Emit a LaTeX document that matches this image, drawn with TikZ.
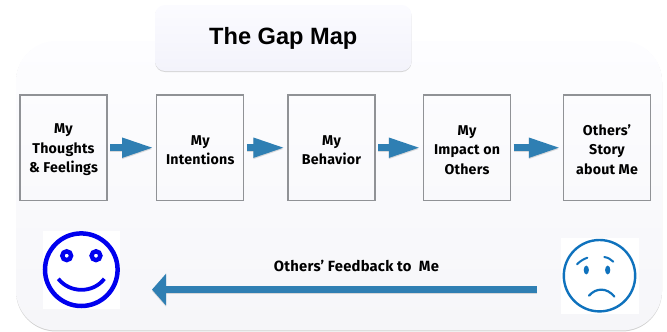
\documentclass[tikz,border=0pt]{standalone}
\usepackage{fontspec}
\setmainfont{Liberation Sans}
\newfontfamily\labfont[LetterSpace=1.5]{Fira Sans}
\usetikzlibrary{arrows.meta,shadows}
\definecolor{arrowblue}{HTML}{2F7FB3}
\definecolor{boxgrey}{HTML}{909296}
\definecolor{sadblue}{HTML}{0F72BD}
\definecolor{smileblue}{HTML}{0000EE}
\definecolor{paneltop}{HTML}{FDFDFF}
\definecolor{panelbot}{HTML}{F6F6F9}
\definecolor{titletop}{HTML}{FBFBFF}
\definecolor{titlebot}{HTML}{F3F3FB}
\newcommand\lift{\rule{0pt}{14.5pt}}
\tikzset{
  panelbox/.style={inner sep=0pt,rounded corners=40pt,top color=paneltop,bottom color=panelbot,draw=none,
    drop shadow={shadow xshift=0pt,shadow yshift=-1pt,fill=black!30,opacity=.6}},
  titlebox/.style={inner sep=0pt,rounded corners=10pt,top color=titletop,bottom color=titlebot,draw=none,
    drop shadow={shadow xshift=0pt,shadow yshift=-1pt,fill=black!30,opacity=.5},
    font=\bfseries\fontsize{23.6}{26}\selectfont},
  stagebox/.style={draw=boxgrey,line width=1.2pt,fill=none,inner sep=0pt,minimum width=87pt,minimum height=105.5pt,
    align=center,font=\labfont\bfseries\fontsize{14.2}{19.4}\selectfont},
  flowshadow/.style={draw=black!45,opacity=.3,line width=7pt,-{Triangle[length=32pt,width=18pt]},shorten <=2.5pt,shorten >=2pt},
  flowarrow/.style={draw=arrowblue,line width=7pt,-{Triangle[length=32pt,width=18pt]},shorten <=2.5pt,shorten >=2pt},
  backshadow/.style={draw=black!45,opacity=.3,line width=7pt,-{Triangle[length=14pt,width=31pt]}},
  backarrow/.style={draw=arrowblue,line width=7pt,-{Triangle[length=14pt,width=31pt]}},
  facebg/.style={fill=white,inner sep=0pt},
  caption/.style={inner sep=0pt,font=\labfont\bfseries\fontsize{14.8}{16}\selectfont}
}
\begin{document}
\begin{tikzpicture}[x=1pt,y=-1pt]
\useasboundingbox (0,0) rectangle (667,332);
\node[panelbox,minimum width=646pt,minimum height=289.5pt] (panel) at (339,185.7) {};
\node[titlebox,minimum width=256.5pt,minimum height=66pt] (title) at (283.3,38) {The Gap Map};
\node[stagebox] (s1) at (63.5,147.7) {\lift My\\Thoughts\\\& Feelings};
\node[stagebox] (s2) at (200.3,147.7) {\lift My\\Intentions};
\node[stagebox] (s3) at (331.5,147.7) {\lift My\\Behavior};
\node[stagebox] (s4) at (467,147.7) {\lift My\\Impact on\\Others};
\node[stagebox] (s5) at (607,147.7) {\lift Others’\\Story\\about Me};
\foreach \a/\b in {s1/s2,s2/s3,s3/s4,s4/s5}{
  \draw[flowshadow,transform canvas={yshift=-1.2pt}] (\a.east) -- (\b.west);
  \draw[flowarrow] (\a.east) -- (\b.west);
}
\node[facebg,minimum width=77.5pt,minimum height=78pt] (smile) at (81.3,269.7) {};
\draw[smileblue,line width=4.5pt] (smile.center) circle[radius=36.3pt];
\draw[smileblue,line width=4.4pt] (66.7,255.7) circle[radius=4.4pt];
\draw[smileblue,line width=4.4pt] (96,255.7) circle[radius=4.4pt];
\draw[smileblue,line width=3.8pt] (58.3,278.8) .. controls (70,293.5) and (93,293.5) .. (104.3,278.8);
\node[facebg,minimum width=78pt,minimum height=76pt] (sad) at (600,276) {};
\draw[sadblue,line width=2.4pt] (599.5,275.7) circle[radius=35.7pt];
\fill[sadblue] (586.3,270) ellipse[x radius=2.6pt,y radius=4.4pt];
\fill[sadblue] (607.7,270) ellipse[x radius=2.6pt,y radius=4.4pt];
\draw[sadblue,line width=2pt,line cap=round] (577,264.3) .. controls (580,261) and (584,259) .. (587.3,257.7);
\draw[sadblue,line width=2pt,line cap=round] (604.3,257) .. controls (608,257.5) and (611,259.5) .. (613.3,261.7);
\draw[sadblue,line width=2.2pt,line cap=round] (589,295.7) .. controls (596,287.5) and (607,287.5) .. (614.3,296.5);
\coordinate (fbstart) at (537,289.6);
\coordinate (fbend) at (152,289.6);
\draw[backshadow,transform canvas={yshift=-1.2pt}] (fbstart) -- (fbend);
\draw[backarrow] (fbstart) -- (fbend);
\node[caption] (fb) at (356.5,266) {Others’ Feedback to\ \ Me};
\end{tikzpicture}
\end{document}
